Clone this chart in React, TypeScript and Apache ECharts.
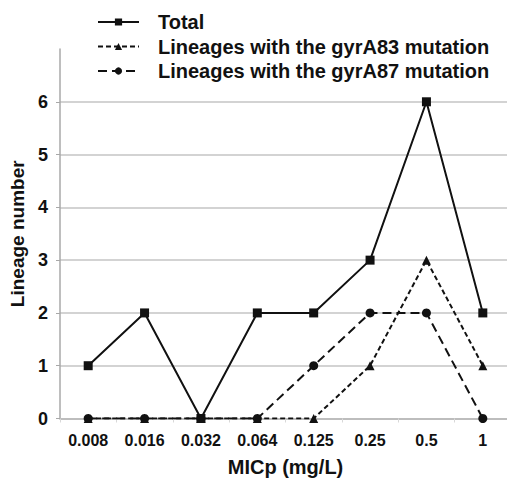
import React, { useEffect, useRef } from "react";
import * as echarts from "echarts";

const categories = ["0.008", "0.016", "0.032", "0.064", "0.125", "0.25", "0.5", "1"];
const totalValues = [1, 2, 0, 2, 2, 3, 6, 2];
const gyrA83Values = [0, 0, 0, 0, 0, 1, 3, 1];
const gyrA87Values = [0, 0, 0, 0, 1, 2, 2, 0];
const seriesNames = [
  "Total",
  "Lineages with the gyrA83 mutation",
  "Lineages with the gyrA87 mutation",
];

const FONT = "'Liberation Sans', Arial, sans-serif";
const INK = "#111111";

export default function App() {
  const ref = useRef<HTMLDivElement>(null);
  useEffect(() => {
    if (!ref.current) return;
    const chart = echarts.init(ref.current, undefined, { renderer: "svg" });
    chart.setOption({
      animation: false,
      backgroundColor: "#ffffff",
      textStyle: { fontFamily: FONT },
      legend: {
        orient: "vertical",
        left: 97,
        top: 12,
        padding: 0,
        itemWidth: 41,
        itemHeight: 9,
        itemGap: 4.5,
        data: seriesNames,
        textStyle: {
          fontFamily: FONT,
          fontWeight: "bold",
          fontSize: 20,
          color: INK,
          lineHeight: 20,
          padding: [0, 0, 0, 14],
        },
      },
      grid: {
        left: 60,
        right: -4,
        top: 49,
        bottom: 66.5,
        containLabel: false,
        outerBoundsMode: "none",
      },
      xAxis: {
        type: "category",
        data: categories,
        boundaryGap: true,
        name: "MICp (mg/L)",
        nameLocation: "middle",
        nameGap: 38,
        nameTextStyle: { fontFamily: FONT, fontWeight: "bold", fontSize: 20, color: INK },
        axisLine: { lineStyle: { color: "#a8a8a8", width: 1.5 } },
        axisTick: { show: true, length: 4, lineStyle: { color: "#d8d8d8" } },
        axisLabel: { fontFamily: FONT, fontWeight: "bold", fontSize: 16, color: INK, margin: 14 },
      },
      yAxis: {
        type: "value",
        min: 0,
        max: 7,
        interval: 1,
        name: "Lineage number",
        nameLocation: "middle",
        nameGap: 29,
        nameTextStyle: { fontFamily: FONT, fontWeight: "bold", fontSize: 19, color: INK },
        axisLine: { show: true, lineStyle: { color: "#a8a8a8", width: 1.5 } },
        axisTick: { show: true, length: 4, lineStyle: { color: "#a8a8a8" } },
        axisLabel: {
          fontFamily: FONT,
          fontWeight: "bold",
          fontSize: 18,
          color: INK,
          margin: 12,
          showMaxLabel: false,
        },
        splitLine: {
          show: true,
          showMinLine: false,
          showMaxLine: false,
          lineStyle: { color: "#c4c4c4", width: 1.5 },
        },
      },
      series: [
        {
          name: seriesNames[0],
          type: "line",
          data: totalValues,
          symbol: "rect",
          symbolSize: 9,
          z: 3,
          lineStyle: { color: INK, width: 2 },
          itemStyle: { color: INK },
        },
        {
          name: seriesNames[1],
          type: "line",
          data: gyrA83Values,
          symbol: "triangle",
          symbolSize: 9,
          z: 2,
          lineStyle: { color: INK, width: 2, type: [5, 3] },
          itemStyle: { color: INK },
        },
        {
          name: seriesNames[2],
          type: "line",
          data: gyrA87Values,
          symbol: "circle",
          symbolSize: 9,
          z: 2,
          lineStyle: { color: INK, width: 2, type: [9, 5] },
          itemStyle: { color: INK },
        },
      ],
    });
    return () => chart.dispose();
  }, []);
  return (
    <div
      ref={ref}
      style={{ position: "fixed", left: 0, top: 0, width: 507, height: 485 }}
    />
  );
}
